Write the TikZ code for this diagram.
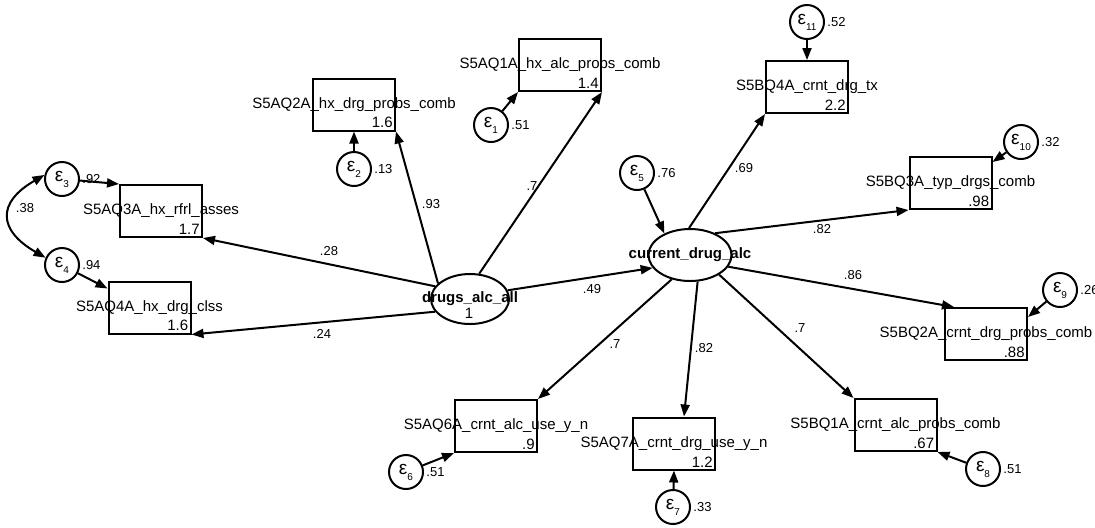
\documentclass[tikz,border=0pt]{standalone}
\usepackage{fontspec}
\setmainfont{Liberation Sans}
\usetikzlibrary{shapes.geometric,arrows.meta}
\newcommand{\eps}[1]{ε\raisebox{-3pt}{\fontsize{5}{5}\selectfont #1}}

\begin{document}
\begin{tikzpicture}[x=0.5pt,y=0.5pt,
  sem/.tip={Triangle[length=6pt,width=4.5pt]},
  obs/.style={draw,line width=1pt,rectangle,minimum width=41pt,minimum height=26pt,inner sep=0pt,font=\fontsize{7.5}{9}\selectfont},
  lat/.style={draw,line width=1pt,ellipse,inner sep=0pt,font=\bfseries\fontsize{7.5}{9}\selectfont},
  err/.style={draw,line width=1pt,circle,minimum size=17pt,inner sep=0pt,font=\fontsize{9.5}{10}\selectfont},
  val/.style={font=\fontsize{7.5}{9}\selectfont,inner sep=1.5pt},
  coef/.style={font=\fontsize{6.5}{8}\selectfont,inner sep=1pt},
  link/.style={line width=1pt,-sem},
  cov/.style={line width=1pt,sem-sem}]
\useasboundingbox (0,0) rectangle (1095,-527);

\node[lat,minimum width=39pt,minimum height=25pt] (drugs) at (470,-299) {\makebox[0pt]{drugs\_alc\_all}};
\node[val] (drugsv) at (469,-313) {1};
\node[lat,minimum width=41.5pt,minimum height=26pt] (current) at (690,-255) {\makebox[0pt]{current\_drug\_alc}};

\node[obs] (q1a) at (560,-65) {\makebox[0pt]{S5AQ1A\_hx\_alc\_probs\_comb}};
\node[obs] (q2a) at (354,-104.5) {\makebox[0pt]{S5AQ2A\_hx\_drg\_probs\_comb}};
\node[obs] (q3a) at (161,-211) {\makebox[0pt]{S5AQ3A\_hx\_rfrl\_asses}};
\node[obs] (q4a) at (149.5,-307.5) {\makebox[0pt]{S5AQ4A\_hx\_drg\_clss}};
\node[obs] (q6a) at (496,-426) {\makebox[0pt]{S5AQ6A\_crnt\_alc\_use\_y\_n}};
\node[obs] (q7a) at (674,-443.5) {\makebox[0pt]{S5AQ7A\_crnt\_drg\_use\_y\_n}};
\node[obs] (b1a) at (895.5,-425) {\makebox[0pt]{S5BQ1A\_crnt\_alc\_probs\_comb}};
\node[obs] (b2a) at (986,-334) {\makebox[0pt]{S5BQ2A\_crnt\_drg\_probs\_comb}};
\node[obs] (b3a) at (950.5,-183) {\makebox[0pt]{S5BQ3A\_typ\_drgs\_comb}};
\node[obs] (b4a) at (807,-87) {\makebox[0pt]{S5BQ4A\_crnt\_drg\_tx}};

\node[val,anchor=south east] (q1av) at (q1a.south east) {1.4};
\node[val,anchor=south east] (q2av) at (q2a.south east) {1.6};
\node[val,anchor=south east] (q3av) at (q3a.south east) {1.7};
\node[val,anchor=south east] (q4av) at (q4a.south east) {1.6};
\node[val,anchor=south east] (q6av) at (q6a.south east) {.9};
\node[val,anchor=south east] (q7av) at (q7a.south east) {1.2};
\node[val,anchor=south east] (b1av) at (b1a.south east) {.67};
\node[val,anchor=south east] (b2av) at (b2a.south east) {.88};
\node[val,anchor=south east] (b3av) at (b3a.south east) {.98};
\node[val,anchor=south east] (b4av) at (b4a.south east) {2.2};

\node[err,label={[coef]east:.51}] (e1) at (491,-125) {\eps{1}};
\node[err,label={[coef]east:.13}] (e2) at (354,-169) {\eps{2}};
\node[err,label={[coef]east:.92}] (e3) at (62,-179) {\eps{3}};
\node[err,label={[coef]east:.94}] (e4) at (62,-265) {\eps{4}};
\node[err,label={[coef]east:.76}] (e5) at (637,-173) {\eps{5}};
\node[err,label={[coef]east:.51}] (e6) at (406,-472) {\eps{6}};
\node[err,label={[coef]east:.33}] (e7) at (673,-507) {\eps{7}};
\node[err,label={[coef]east:.51}] (e8) at (983,-469) {\eps{8}};
\node[err,label={[coef]east:.26}] (e9) at (1060,-290) {\eps{9}};
\node[err,label={[coef]east:.32}] (e10) at (1021,-142) {\eps{10}};
\node[err,label={[coef]east:.52}] (e11) at (807,-22) {\eps{11}};

\draw[link] (e1) -- (q1a.south west);
\draw[link] (e2) -- (q2a.south);
\draw[link] (e3) -- (q3a.north west);
\draw[link] (e4) -- ([yshift=-4pt]q4a.north west);
\draw[link] (e5) -- (current.140);
\draw[link] (e6) -- (q6a.south west);
\draw[link] (e7) -- (q7a.south);
\draw[link] (e8) -- (b1a.south east);
\draw[link] (e9) -- ([yshift=-5pt]b2a.north east);
\draw[link] (e10) -- ([yshift=-3pt]b3a.north east);
\draw[link] (e11) -- (b4a.north);
\draw[cov] (e3.167) to[out=210,in=150,looseness=1.7] (e4.156);

\draw[link] (drugs.70) -- (q1a.south east);
\draw[link] (drugs.154) -- (q2a.south east);
\draw[link] (drugs.160) -- (q3a.south east);
\draw[link] (drugs.200) -- (q4a.south east);
\draw[link] (drugs.13) -- (current.199);
\draw[link] (current.92) -- (b4a.south west);
\draw[link] (current.41) -- (b3a.south west);
\draw[link] (current.343) -- ([xshift=5pt]b2a.north west);
\draw[link] (current.326) -- (b1a.north west);
\draw[link] (current.286) -- ([xshift=5pt]q7a.north);
\draw[link] (current.233) -- (q6a.north east);

\node[coef] (w1a) at (532,-186) {.7};
\node[coef] (w2a) at (431,-204) {.93};
\node[coef] (w3a) at (329,-251) {.28};
\node[coef] (w4a) at (322,-334) {.24};
\node[coef] (wcur) at (592,-289) {.49};
\node[coef] (v4b) at (744,-168) {.69};
\node[coef] (v3b) at (822,-229) {.82};
\node[coef] (v2b) at (853,-275) {.86};
\node[coef] (v1b) at (800,-328) {.7};
\node[coef] (v7a) at (704,-348) {.82};
\node[coef] (v6a) at (615,-344) {.7};
\node[coef] (c34) at (25,-208) {.38};
\end{tikzpicture}
\end{document}
